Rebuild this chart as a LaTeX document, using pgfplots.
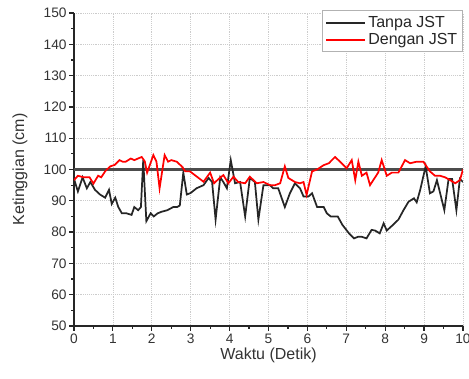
\documentclass[border=0pt]{standalone}
\usepackage{fontspec}
\setmainfont{Liberation Sans}
\usepackage{pgfplots}
\pgfplotsset{compat=1.18}
\begin{document}
\begin{tikzpicture}
\begin{axis}[
  name=ax,
  scale only axis,
  width=291.75pt, height=234.75pt,
  xmin=0, xmax=10, ymin=50, ymax=150,
  xtick={0,1,...,10}, ytick={50,60,...,150},
  minor x tick num=1, minor y tick num=1,
  axis x line*=bottom, axis y line*=left,
  tick align=outside,
  major tick length=3.5pt, minor tick length=2.2pt,
  every tick/.style={black!85, line width=0.9pt},
  axis line style={black!85, line width=1pt},
  grid=major,
  major grid style={gray!40, densely dotted, line width=0.5pt},
  /pgf/number format/assume math mode=true,
  tick label style={font=\fontsize{10.3}{12}\selectfont, text=black!80},
  yticklabel style={xshift=1.5pt},
  xticklabel style={yshift=1pt},
  xlabel={Waktu (Detik)}, ylabel={Ketinggian (cm)},
  label style={font=\fontsize{12}{14}\selectfont, text=black!80},
  xlabel style={at={(axis description cs:0.5,0)}, anchor=center, yshift=-21.75pt},
  ylabel style={at={(axis description cs:0,0.5)}, anchor=center, yshift=40.5pt},
  legend style={at={(1,1)}, anchor=north east, yshift=2pt, draw=gray!60, line width=0.6pt,
    font=\fontsize{12}{13}\selectfont, text=black!85, inner sep=2pt, row sep=-1pt},
  legend cell align=left,
  legend image code/.code={\draw[#1] (0pt,0pt) -- (29pt,0pt);},
]
\addplot[black!70, line width=1.6pt, forget plot] coordinates {(0,100) (10,100)};
\addplot[black!85, line width=1.3pt] coordinates {
(0.00,97) (0.10,93) (0.22,97.5) (0.33,94) (0.42,96) (0.54,93.5) (0.67,92) (0.80,91)
(0.90,93.5) (0.97,89) (1.06,91) (1.14,88) (1.23,86) (1.35,86) (1.48,85.5) (1.55,88)
(1.65,87) (1.72,88) (1.78,103) (1.86,83.5) (1.97,86) (2.05,85) (2.15,86) (2.25,86.5)
(2.40,87) (2.55,88) (2.65,88) (2.72,88.5) (2.81,99) (2.90,92) (3.00,92.5) (3.15,94)
(3.33,95) (3.46,97.3) (3.55,96) (3.64,84) (3.76,97.5) (3.84,96) (3.93,94) (4.03,103)
(4.14,95.6) (4.27,96) (4.40,85) (4.52,97.3) (4.65,96) (4.74,84) (4.87,95) (5.04,95)
(5.12,94) (5.25,94) (5.42,88) (5.55,92.4) (5.68,95.6) (5.81,94) (5.90,91.4) (6.03,91.4)
(6.12,92.4) (6.25,88) (6.42,88) (6.50,86) (6.60,85) (6.78,85) (6.90,82.3) (7.07,79.6)
(7.20,78) (7.30,78.5) (7.40,78.5) (7.52,78) (7.65,80.7) (7.74,80.5) (7.86,79.6) (7.96,82.8)
(8.04,80.5) (8.20,82.3) (8.34,84) (8.47,87) (8.60,89.7) (8.74,90.8) (8.81,89.5) (8.90,93.5)
(9.04,101) (9.15,92.4) (9.24,93) (9.33,96.6) (9.52,87) (9.63,97) (9.72,97) (9.83,87)
(9.92,97) (10.0,96)
};
\addlegendentry{Tanpa JST}
\addplot[red, line width=1.3pt] coordinates {
(0.00,96.6) (0.10,98) (0.25,97.5) (0.40,97.5) (0.50,95.5) (0.62,98) (0.70,97.5) (0.80,99.4)
(0.93,101) (1.05,101.5) (1.17,103) (1.25,102.5) (1.33,102.5) (1.46,103.5) (1.55,103) (1.74,104)
(1.82,102.6) (1.88,99) (2.04,104.6) (2.12,102.5) (2.20,94) (2.33,104.6) (2.42,102.5) (2.50,103)
(2.64,102.5) (2.77,101) (2.86,99.4) (2.98,99.4) (3.16,97.7) (3.33,96.1) (3.50,99) (3.60,95.6)
(3.72,97) (3.84,98.2) (3.97,95.6) (4.10,97.7) (4.22,96) (4.40,95.6) (4.52,97.7) (4.70,95.6)
(4.87,96) (5.04,95) (5.17,95) (5.30,95.6) (5.42,101) (5.51,97.3) (5.68,96) (5.81,95.6)
(5.90,96) (5.98,91.9) (6.12,99.4) (6.25,100) (6.42,101.4) (6.55,102) (6.71,104) (6.84,102.5)
(7.01,100.4) (7.14,103) (7.23,96.6) (7.31,102.5) (7.40,98) (7.52,99) (7.61,95) (7.74,97.5)
(7.82,99) (7.91,103) (8.04,98) (8.17,99) (8.34,99) (8.51,103) (8.64,102) (8.81,102.5)
(8.98,102.5) (9.15,99.4) (9.28,98) (9.41,98) (9.54,97.5) (9.67,96.6) (9.80,95.6) (9.92,96.6)
(10.0,100)
};
\addlegendentry{Dengan JST}
\end{axis}
\pgfresetboundingbox
\path[use as bounding box] ([xshift=-55.5pt,yshift=-39.75pt]ax.south west) rectangle ([xshift=4.5pt,yshift=9.75pt]ax.north east);
\end{tikzpicture}
\end{document}
